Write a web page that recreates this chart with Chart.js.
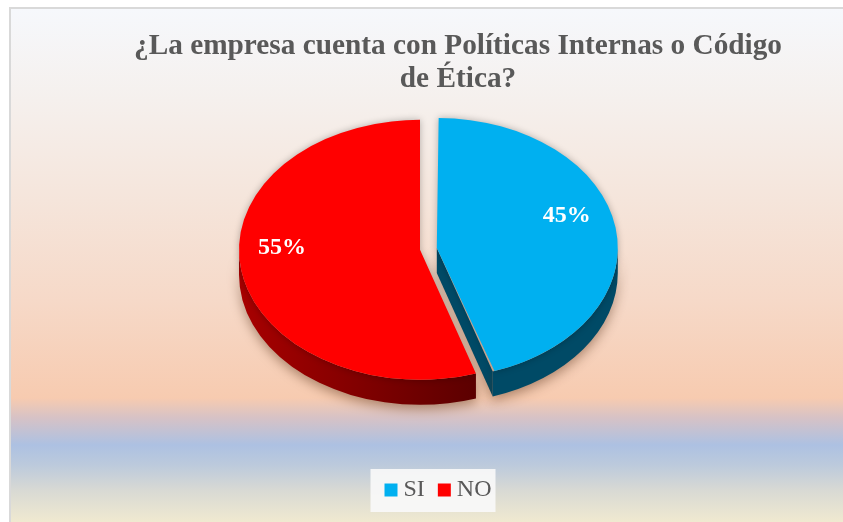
<!DOCTYPE html>
<html>
<head>
<meta charset="utf-8">
<script src="https://cdn.jsdelivr.net/npm/chart.js@4.4.0/dist/chart.umd.min.js"></script>
<style>
  html, body { margin: 0; padding: 0; background: #ffffff; }
</style>
</head>
<body>
<canvas id="pieChart" width="843" height="522"></canvas>
<script>
// chart data
const categories = ['SI', 'NO'];
const percentages = [45, 55];
const titleLines = ['¿La empresa cuenta con Políticas Internas o Código', 'de Ética?'];

const topColors = ['#00b0f0', '#ff0000'];
const serif = "'Liberation Serif', 'Times New Roman', serif";

// fake 3D look: squash the pie and draw its walls underneath
const TILT = 0.718;
const DEPTH = 25;

function arcGeom(arc) {
    const t = (arc.options.offset || 0) / 4;
    const fix = 1 - Math.sin(Math.min(Math.PI, arc.circumference || 0));
    const mid = (arc.startAngle + arc.endAngle) / 2;
    return {
        cx: arc.x + Math.cos(mid) * t,
        cy: arc.y + Math.sin(mid) * t * TILT,
        r: arc.outerRadius + t * fix,
        s: arc.startAngle,
        e: arc.endAngle,
        mid: mid
    };
}

function sideFill(ctx, i, g) {
    if (i === 0) return '#004a66';
    const grad = ctx.createLinearGradient(g.cx - g.r, 0, g.cx + g.r * 0.4, 0);
    grad.addColorStop(0, '#a80000');
    grad.addColorStop(1, '#560000');
    return grad;
}

const pie3d = {
    id: 'pie3d',
    afterLayout(chart) {
        // title and legend sit a bit right of the pie in the original
        const t = chart.titleBlock;
        t.left += 38; t.right += 38;
        const lg = chart.legend;
        const dy = 459 - lg.top;
        lg.left += 21; lg.right += 21;
        lg.top += dy; lg.bottom += dy;
    },
    afterDatasetsUpdate(chart) {
        chart.getDatasetMeta(0).data.forEach(arc => {
            const t = (arc.options.offset || 0) / 4;
            const fix = 1 - Math.sin(Math.min(Math.PI, arc.circumference || 0));
            arc.outerRadius -= t * fix;
        });
    },
    beforeDraw(chart) {
        const ctx = chart.ctx;
        const w = chart.width, h = chart.height;
        ctx.save();
        ctx.fillStyle = '#ffffff';
        ctx.fillRect(0, 0, w, h);
        ctx.fillStyle = '#d9d9d9';
        ctx.fillRect(9, 7, w, h);
        const top = 9, span = h - top;
        const stop = y => Math.min(1, Math.max(0, (y - top) / span));
        const bg = ctx.createLinearGradient(0, top, 0, h);
        bg.addColorStop(0, '#f6f8fc');
        bg.addColorStop(stop(100), '#f5f0ed');
        bg.addColorStop(stop(200), '#f5e5db');
        bg.addColorStop(stop(300), '#f6d9c8');
        bg.addColorStop(stop(398), '#f7cbb0');
        bg.addColorStop(stop(418), '#d6c2c6');
        bg.addColorStop(stop(445), '#adc1e2');
        bg.addColorStop(stop(465), '#bccadc');
        bg.addColorStop(stop(490), '#d8d9d4');
        bg.addColorStop(1, '#f0e9d0');
        ctx.fillStyle = bg;
        ctx.fillRect(11, top, w, h);

        // legend panel
        const hb = chart.legend.legendHitBoxes;
        if (hb && hb.length) {
            const last = hb[hb.length - 1];
            const x0 = hb[0].left - 20;
            const x1 = last.left + last.width + 4;
            const y0 = hb[0].top - 9;
            ctx.fillStyle = 'rgba(248,248,248,0.92)';
            ctx.fillRect(x0, y0, x1 - x0, 43);
        }
        ctx.restore();
    },
    beforeDatasetsDraw(chart) {
        const ctx = chart.ctx;
        const arcs = chart.getDatasetMeta(0).data;
        ctx.save();
        ctx.shadowColor = 'rgba(80,40,15,0.45)';
        ctx.shadowBlur = 12;
        ctx.shadowOffsetY = 4;
        arcs.forEach((arc, i) => {
            const g = arcGeom(arc);
            ctx.fillStyle = sideFill(ctx, i, g);
            // cut faces that look toward the viewer
            [[g.e, Math.cos(g.e) > 0.001], [g.s, Math.cos(g.s) < -0.001]].forEach(([a, vis]) => {
                if (!vis) return;
                const px = g.cx + g.r * Math.cos(a);
                const py = g.cy + TILT * g.r * Math.sin(a);
                ctx.beginPath();
                ctx.moveTo(g.cx, g.cy);
                ctx.lineTo(px, py);
                ctx.lineTo(px, py + DEPTH);
                ctx.lineTo(g.cx, g.cy + DEPTH);
                ctx.closePath();
                ctx.fill();
            });
            // outer wall, front half only
            [-2 * Math.PI, 0, 2 * Math.PI].forEach(k => {
                const a0 = Math.max(g.s, k), a1 = Math.min(g.e, k + Math.PI);
                if (a1 <= a0) return;
                ctx.beginPath();
                ctx.ellipse(g.cx, g.cy, g.r, g.r * TILT, 0, a0, a1);
                ctx.ellipse(g.cx, g.cy + DEPTH, g.r, g.r * TILT, 0, a1, a0, true);
                ctx.closePath();
                ctx.fill();
            });
        });
        ctx.restore();

        const c = arcs[0];
        ctx.save();
        ctx.translate(c.x, c.y);
        ctx.scale(1, TILT);
        ctx.translate(-c.x, -c.y);
        ctx.shadowColor = 'rgba(0,0,0,0.28)';
        ctx.shadowBlur = 7;
    },
    afterDatasetsDraw(chart) {
        const ctx = chart.ctx;
        ctx.restore();
        const arcs = chart.getDatasetMeta(0).data;
        const total = percentages.reduce((a, b) => a + b, 0);
        ctx.save();
        ctx.font = 'bold 24px ' + serif;
        ctx.fillStyle = '#ffffff';
        ctx.textAlign = 'center';
        ctx.textBaseline = 'middle';
        arcs.forEach((arc, i) => {
            const g = arcGeom(arc);
            const lr = g.r * 0.75;
            const pct = Math.round(percentages[i] / total * 100) + '%';
            ctx.fillText(pct, g.cx + lr * Math.cos(g.mid) - 4, g.cy + TILT * lr * Math.sin(g.mid) - 17);
        });
        ctx.restore();
    }
};

const ctx = document.getElementById('pieChart');

new Chart(ctx, {
    type: 'pie',
    data: {
        labels: categories,
        datasets: [{
            data: percentages,
            backgroundColor: topColors,
            borderWidth: 0,
            offset: [68, 0],
            radius: 181,
            clip: false
        }]
    },
    options: {
        responsive: false,
        animation: false,
        devicePixelRatio: 1,
        layout: {
            padding: { top: 22, left: 0, right: 3, bottom: 69 }
        },
        plugins: {
            title: {
                display: true,
                text: titleLines,
                color: '#595959',
                font: { family: serif, size: 29.3, weight: 'bold', lineHeight: 1.12 },
                padding: { top: 8, bottom: 4 }
            },
            legend: {
                position: 'bottom',
                labels: {
                    usePointStyle: true,
                    pointStyle: 'rect',
                    boxWidth: 1,
                    boxHeight: 13,
                    padding: 19,
                    color: '#595959',
                    font: { family: serif, size: 24 }
                }
            },
            tooltip: { enabled: false }
        }
    },
    plugins: [pie3d]
});
</script>
</body>
</html>
